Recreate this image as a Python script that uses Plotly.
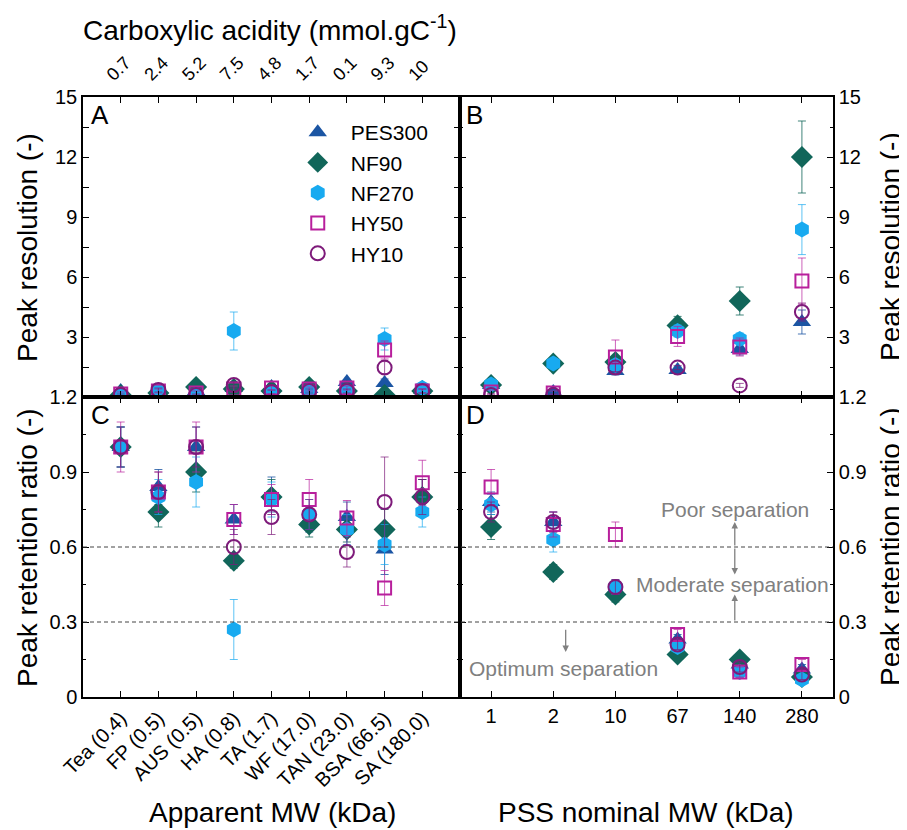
import plotly.graph_objects as go

# ---------------- data ----------------
series = ["PES300", "NF90", "NF270", "HY50", "HY10"]
cats_a = ["Tea (0.4)", "FP (0.5)", "AUS (0.5)", "HA (0.8)", "TA (1.7)",
          "WF (17.0)", "TAN (23.0)", "BSA (66.5)", "SA (180.0)"]
acidity = ["0.7", "2.4", "5.2", "7.5", "4.8", "1.7", "0.1", "9.3", "10"]
pss = ["1", "2", "10", "67", "140", "280"]

# Panel A: peak resolution vs organics
res_a = {
    "PES300": [0.3, 0.3, 0.3, 0.45, 0.5, 0.4, 0.75, 0.7, 0.35],
    "NF90":   [0.1, 0.2, 0.5, 0.4, 0.3, 0.5, 0.3, 0.1, 0.3],
    "NF270":  [0.1, 0.3, 0.15, 3.3, 0.2, 0.35, 0.3, 2.9, 0.45],
    "HY50":   [0.15, 0.3, 0.2, 0.4, 0.45, 0.4, 0.45, 2.35, 0.3],
    "HY10":   [0.1, 0.35, 0.1, 0.6, 0.25, 0.3, 0.3, 1.47, 0.3],
}
res_a_err = {
    "PES300": [0.1, 0.1, 0.1, 0.1, 0.15, 0.1, 0.1, 0.2, 0.1],
    "NF90":   [0.05, 0.1, 0.1, 0.1, 0.1, 0.1, 0.1, 0.05, 0.1],
    "NF270":  [0.05, 0.1, 0.1, 0.95, 0.1, 0.1, 0.1, 0.55, 0.1],
    "HY50":   [0.1, 0.1, 0.1, 0.15, 0.1, 0.1, 0.1, 0.45, 0.1],
    "HY10":   [0.05, 0.1, 0.05, 0.15, 0.1, 0.1, 0.1, 0.3, 0.1],
}
# Panel B: peak resolution vs PSS
res_b = {
    "PES300": [0.6, 0.25, 1.3, 1.35, 2.4, 3.75],
    "NF90":   [0.6, 1.67, 1.75, 3.58, 4.8, 12.0],
    "NF270":  [0.63, 1.67, 1.6, 3.3, 2.9, 8.37],
    "HY50":   [0.25, 0.2, 2.0, 3.03, 2.5, 5.8],
    "HY10":   [0.1, 0.1, 1.47, 1.47, 0.58, 4.25],
}
res_b_err = {
    "PES300": [0.1, 0.1, 0.2, 0.15, 0.3, 0.6],
    "NF90":   [0.1, 0.1, 0.15, 0.45, 0.7, 1.8],
    "NF270":  [0.1, 0.1, 0.2, 0.3, 0.3, 1.25],
    "HY50":   [0.1, 0.1, 0.85, 0.5, 0.45, 1.15],
    "HY10":   [0.05, 0.05, 0.2, 0.1, 0.1, 0.45],
}
# Panel C: peak retention ratio vs organics
ret_c = {
    "PES300": [1.0, 0.84, 1.0, 0.71, 0.81, 0.71, 0.72, 0.59, 0.81],
    "NF90":   [1.0, 0.74, 0.90, 0.545, 0.80, 0.69, 0.67, 0.67, 0.80],
    "NF270":  [1.0, 0.80, 0.86, 0.27, 0.79, 0.73, 0.67, 0.61, 0.74],
    "HY50":   [1.0, 0.82, 1.0, 0.71, 0.79, 0.79, 0.716, 0.436, 0.857],
    "HY10":   [1.0, 0.82, 1.0, 0.60, 0.72, 0.73, 0.58, 0.78, 0.80],
}
ret_c_err = {
    "PES300": [0.08, 0.07, 0.08, 0.06, 0.07, 0.05, 0.06, 0.1, 0.06],
    "NF90":   [0.08, 0.06, 0.08, 0.03, 0.07, 0.05, 0.05, 0.08, 0.07],
    "NF270":  [0.08, 0.07, 0.1, 0.12, 0.07, 0.06, 0.06, 0.08, 0.06],
    "HY50":   [0.1, 0.08, 0.1, 0.06, 0.06, 0.08, 0.07, 0.07, 0.09],
    "HY10":   [0.08, 0.08, 0.08, 0.07, 0.07, 0.06, 0.06, 0.18, 0.07],
}
# Panel D: peak retention ratio vs PSS
ret_d = {
    "PES300": [0.78, 0.70, 0.43, 0.23, 0.13, 0.11],
    "NF90":   [0.68, 0.50, 0.41, 0.17, 0.15, 0.08],
    "NF270":  [0.77, 0.63, 0.44, 0.20, 0.10, 0.07],
    "HY50":   [0.84, 0.69, 0.65, 0.25, 0.10, 0.13],
    "HY10":   [0.74, 0.70, 0.44, 0.21, 0.12, 0.09],
}
ret_d_err = {
    "PES300": [0.04, 0.04, 0.03, 0.02, 0.02, 0.02],
    "NF90":   [0.05, 0.03, 0.03, 0.02, 0.02, 0.01],
    "NF270":  [0.04, 0.05, 0.03, 0.02, 0.02, 0.01],
    "HY50":   [0.07, 0.05, 0.05, 0.02, 0.02, 0.02],
    "HY10":   [0.04, 0.04, 0.03, 0.02, 0.02, 0.02],
}

# ---------------- styles ----------------
FONT = "Liberation Sans, Arial, sans-serif"
style = {
    "PES300": dict(symbol="triangle-up", color="#1b55a3", size=16, err="rgba(27,85,163,0.8)"),
    "NF90":   dict(symbol="diamond", color="#11665a", size=17, err="rgba(17,102,90,0.8)"),
    "NF270":  dict(symbol="hexagon", color="#18aaf0", size=16, err="rgba(24,170,240,0.7)"),
    "HY50":   dict(symbol="square-open", color="#b81f9c", size=13, err="rgba(184,31,156,0.7)"),
    "HY10":   dict(symbol="circle-open", color="#7e1a7a", size=14, err="rgba(126,26,122,0.7)"),
}

fig = go.Figure()

xa = list(range(1, 10))
xb = list(range(1, 7))
panels = [
    (xa, res_a, res_a_err, "x", "y", True),
    (xb, res_b, res_b_err, "x2", "y2", False),
    (xa, ret_c, ret_c_err, "x3", "y3", False),
    (xb, ret_d, ret_d_err, "x4", "y4", False),
]
for xs, vals, errs, xr, yr, show in panels:
    for s in series:
        st = style[s]
        open_m = "open" in st["symbol"]
        fig.add_trace(go.Scatter(
            x=xs, y=vals[s], mode="markers", name=s, legendgroup=s,
            showlegend=show, xaxis=xr, yaxis=yr,
            marker=dict(symbol=st["symbol"], size=st["size"], color=st["color"],
                        line=dict(width=2 if open_m else 0, color=st["color"])),
            error_y=dict(type="data", array=errs[s], visible=True,
                         color=st["err"], thickness=1, width=4),
        ))

# invisible trace that carries the top (carboxylic acidity) label axis
fig.add_trace(go.Scatter(x=[None], y=[None], xaxis="x5", yaxis="y",
                         showlegend=False, hoverinfo="skip"))

XL = 377 / 750.0
TF = dict(family=FONT, size=20, color="black")
common = dict(showline=True, linecolor="black", linewidth=1.5, mirror="allticks",
              ticks="inside", ticklen=6, tickwidth=1.3, tickcolor="black",
              showgrid=False, zeroline=False, automargin=False, tickfont=TF)
minor_top = dict(ticks="inside", tickvals=[1.5, 4.5, 7.5, 10.5, 13.5],
                 ticklen=3, tickcolor="black")
minor_bot = dict(ticks="inside", tickvals=[0.15, 0.45, 0.75, 1.05],
                 ticklen=3, tickcolor="black")
yt_bot = [0, 0.3, 0.6, 0.9, 1.2]
yt_bot_txt = ["0", "0.3", "0.6", "0.9", "1.2"]

# the page body has an 8px margin; size the figure so the plot lands where the reference's does
fig.update_layout(
    width=899, height=822,
    margin=dict(l=75, r=74, t=89, b=133, autoexpand=False),
    paper_bgcolor="white", plot_bgcolor="white",
    font=dict(family=FONT, color="black"),
    showlegend=True,
    legend=dict(x=0.269, y=0.975, xanchor="left", yanchor="top",
                bgcolor="rgba(0,0,0,0)", font=dict(family=FONT, size=21),
                tracegroupgap=0, itemwidth=56),
    xaxis=dict(domain=[0, XL], range=[0, 10], anchor="y", tickvals=xa,
               showticklabels=False, **common),
    yaxis=dict(domain=[0.5, 1], range=[0, 15], anchor="x",
               tickvals=[3, 6, 9, 12, 15], minor=minor_top, **common),
    xaxis2=dict(domain=[XL, 1], range=[0.5, 6.5], anchor="y2", tickvals=xb,
                showticklabels=False, **common),
    yaxis2=dict(domain=[0.5, 1], range=[0, 15], anchor="x2", side="right",
                tickvals=[3, 6, 9, 12, 15], minor=minor_top, **common),
    xaxis3=dict(domain=[0, XL], range=[0, 10], anchor="y3", tickvals=xa,
                ticktext=cats_a, tickangle=-45, **common),
    yaxis3=dict(domain=[0, 0.5], range=[0, 1.2], anchor="x3",
                tickvals=yt_bot, ticktext=yt_bot_txt, minor=minor_bot, **common),
    xaxis4=dict(domain=[XL, 1], range=[0.5, 6.5], anchor="y4", tickvals=xb,
                ticktext=pss, **common),
    yaxis4=dict(domain=[0, 0.5], range=[0, 1.2], anchor="x4", side="right",
                tickvals=yt_bot, ticktext=yt_bot_txt, minor=minor_bot, **common),
    # label-only top axis; range nudged so the slanted labels sit centred over the ticks
    xaxis5=dict(overlaying="x", side="top", anchor="y", range=[0.345, 10.345],
                tickvals=xa, ticktext=acidity, tickangle=-45, ticks="",
                ticklabelstandoff=8, showline=False, showgrid=False,
                zeroline=False, automargin=False,
                tickfont=dict(family=FONT, size=18, color="black")),
)

# dashed separation lines across panels C and D
for yv in [0.3, 0.6]:
    fig.add_shape(type="line", xref="paper", yref="y3", x0=0, x1=1, y0=yv, y1=yv,
                  line=dict(color="#444444", width=1, dash="4px,3px"))

ann = []
# panel letters
for txt, x, y in [("A", 0.008, 0.999), ("B", 0.508, 0.999),
                  ("C", 0.008, 0.499), ("D", 0.508, 0.499)]:
    ann.append(dict(text=txt, x=x, y=y, xref="paper", yref="paper",
                    xanchor="left", yanchor="top", showarrow=False,
                    font=dict(family=FONT, size=26, color="black")))
# axis titles
tfont = dict(family=FONT, size=28, color="black")
titles = [
    dict(text="Peak resolution (-)", x=-0.0747, y=0.75, textangle=-90),
    dict(text="Peak retention ratio (-)", x=-0.0747, y=0.25, textangle=-90),
    dict(text="Peak resolution (-)", x=1.076, y=0.75, textangle=-90),
    dict(text="Peak retention ratio (-)", x=1.076, y=0.25, textangle=-90),
    dict(text="Apparent MW (kDa)", x=0.252, y=-0.1933),
    dict(text="PSS nominal MW (kDa)", x=0.75, y=-0.1933),
    dict(text="Carboxylic acidity (mmol.gC<sup>-1</sup>)", x=0.249, y=1.115),
]
for a in titles:
    a.update(xref="paper", yref="paper", showarrow=False, font=tfont,
             xanchor="center", yanchor="middle")
ann += titles

# separation annotations in panel D
gfont = dict(family=FONT, size=21, color="#808080")
ann += [
    dict(text="Poor separation", x=4.92, y=0.752, xref="x4", yref="y4",
         showarrow=False, font=gfont),
    dict(text="Moderate separation", x=4.88, y=0.452, xref="x4", yref="y4",
         showarrow=False, font=gfont),
    dict(text="Optimum separation", x=2.17, y=0.116, xref="x4", yref="y4",
         showarrow=False, font=gfont),
]
for (xh, yh, xt, yt) in [(4.92, 0.70, 4.92, 0.6), (4.92, 0.49, 4.92, 0.6),
                         (4.92, 0.41, 4.92, 0.3), (2.2, 0.18, 2.2, 0.275)]:
    ann.append(dict(text="", x=xh, y=yh, ax=xt, ay=yt, xref="x4", yref="y4",
                    axref="x4", ayref="y4", showarrow=True, arrowhead=2,
                    arrowsize=1, arrowwidth=1.3, arrowcolor="#808080"))

fig.update_layout(annotations=ann)
fig.write_html("out.html")
